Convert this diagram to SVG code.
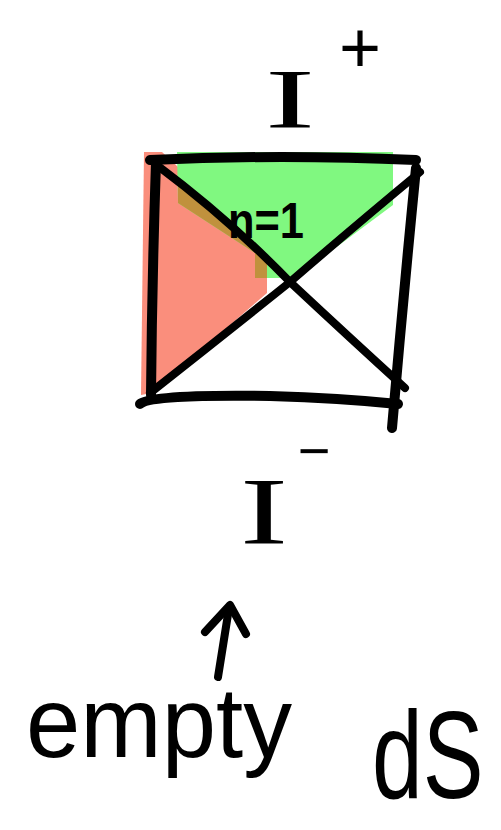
<svg xmlns="http://www.w3.org/2000/svg" width="501" height="830" viewBox="0 0 501 830">
<style>
.ink{fill:none;stroke:#000;stroke-linecap:round;stroke-linejoin:round}
.thick{stroke-width:10}
.mid{stroke-width:8}
.hand{fill:#000;font-family:"Liberation Sans",Arial,sans-serif}
.serif{fill:#000;font-family:"Liberation Serif","Times New Roman",serif}
</style>
<rect width="501" height="830" fill="#fff"/>
<g id="I-plus">
<text class="serif" x="290" y="128" font-size="84" text-anchor="middle" textLength="50" lengthAdjust="spacingAndGlyphs">I</text>
<text class="hand" x="360" y="72" font-size="72" text-anchor="middle">+</text>
</g>
<g id="box">
<polygon points="144,152 162,152 267,250 267,293 152,393 141,395" fill="#fa8e7c"/>
<polygon points="177,152 393,152 393,205 295,278 255,278 255,253 178,203" fill="#80f880"/>
<polygon points="178,181 178,203 255,253 255,278 267,278 267,256" fill="#c0913d"/>
<path class="ink thick" d="M150,160 Q280,154 416,160"/>
<path class="ink thick" d="M156,162 Q152,280 151,395"/>
<path class="ink thick" d="M416,168 Q403,300 392,428"/>
<path class="ink thick" d="M140,404 Q150,394 270,396 Q340,398 398,404"/>
<path class="ink mid" d="M158,166 Q230,220 290,282 Q350,338 405,388"/>
<path class="ink mid" d="M420,172 Q350,230 290,282 Q220,338 150,393"/>
<text class="hand" x="266" y="238" font-size="50" font-weight="bold" text-anchor="middle" textLength="76" lengthAdjust="spacingAndGlyphs">n=1</text>
</g>
<g id="I-minus">
<text class="serif" x="264" y="544" font-size="96" text-anchor="middle" textLength="48" lengthAdjust="spacingAndGlyphs">I</text>
<text class="hand" x="314" y="470" font-size="56" text-anchor="middle">−</text>
</g>
<g id="connectors">
<path class="ink mid" d="M218,677 L229,608"/>
<path class="ink mid" d="M205,632 L230,605 L246,634"/>
</g>
<g id="empty-dS">
<text class="hand" x="26" y="757" font-size="100" textLength="266" lengthAdjust="spacingAndGlyphs">empty</text>
<text class="hand" transform="translate(372,798) scale(0.95,1.3)" x="0" y="0" font-size="96">dS</text>
</g>
</svg>
